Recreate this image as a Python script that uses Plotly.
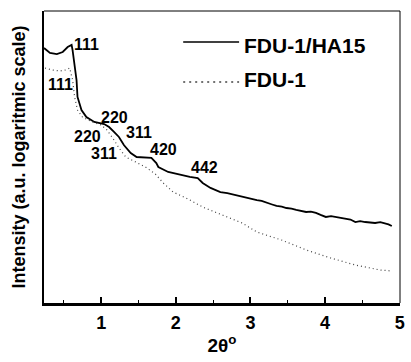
import plotly.graph_objects as go

# FDU-1/HA15 (solid) : 2-theta (deg) and log10 intensity (a.u.)
ha15_x = [0.234, 0.314, 0.406, 0.485, 0.551, 0.604, 0.617, 0.644, 0.670, 0.683,
          0.736, 0.802, 0.908, 1.040, 1.106, 1.172, 1.238, 1.304, 1.396, 1.475,
          1.594, 1.673, 1.739, 1.766, 1.898, 2.030, 2.110, 2.188, 2.294, 2.360,
          2.465, 2.530, 2.597, 2.690, 2.782, 2.850, 2.914, 3.000, 3.086, 3.150,
          3.218, 3.290, 3.350, 3.420, 3.482, 3.550, 3.614, 3.680, 3.746, 3.810,
          3.878, 3.940, 4.010, 4.080, 4.142, 4.210, 4.274, 4.340, 4.406, 4.470,
          4.538, 4.600, 4.670, 4.740, 4.802, 4.850, 4.894]
ha15_y = [2.620, 2.569, 2.558, 2.579, 2.630, 2.651, 2.599, 2.466, 2.291, 2.117,
          1.983, 1.911, 1.860, 1.839, 1.808, 1.757, 1.706, 1.623, 1.541, 1.500,
          1.490, 1.490, 1.438, 1.397, 1.346, 1.325, 1.305, 1.295, 1.284, 1.233,
          1.182, 1.165, 1.140, 1.128, 1.110, 1.100, 1.089, 1.075, 1.058, 1.048,
          1.027, 1.012, 0.997, 0.990, 0.976, 0.970, 0.956, 0.948, 0.935, 0.938,
          0.925, 0.905, 0.884, 0.892, 0.884, 0.870, 0.863, 0.858, 0.832, 0.842,
          0.832, 0.826, 0.822, 0.830, 0.822, 0.808, 0.791]

# FDU-1 (dotted)
fdu_x = [0.248, 0.340, 0.446, 0.525, 0.578, 0.617, 0.644, 0.683, 0.749, 0.881,
         1.000, 1.079, 1.172, 1.238, 1.330, 1.462, 1.594, 1.726, 1.832, 1.964,
         2.162, 2.360, 2.558, 2.690, 2.888, 3.086, 3.416, 3.746, 4.076, 4.406,
         4.736, 4.894]
fdu_y = [2.414, 2.394, 2.384, 2.394, 2.414, 2.291, 2.117, 1.983, 1.911, 1.860,
         1.829, 1.777, 1.675, 1.593, 1.500, 1.449, 1.397, 1.325, 1.233, 1.140,
         1.069, 0.986, 0.925, 0.884, 0.822, 0.729, 0.647, 0.545, 0.462, 0.390,
         0.339, 0.329]

# Reflection labels
peak_labels = ["111", "111", "220", "220", "311", "311", "420", "442"]
peak_label_x = [0.802, 0.459, 1.185, 0.815, 1.502, 1.040, 1.832, 2.386]
peak_label_y = [2.651, 2.240, 1.911, 1.706, 1.747, 1.541, 1.572, 1.397]

x_ticks = [1, 2, 3, 4, 5]
x_tick_text = ["1", "2", "3", "4", "5"]

FONT = "Liberation Sans, Arial, Helvetica, sans-serif"

fig = go.Figure()
fig.add_trace(go.Scatter(x=ha15_x, y=ha15_y, mode="lines",
                         line=dict(color="black", width=1.8), name="FDU-1/HA15",
                         showlegend=False))
fig.add_trace(go.Scatter(x=fdu_x, y=fdu_y, mode="lines",
                         line=dict(color="#444444", width=1.2, dash="1px,3px"),
                         name="FDU-1", showlegend=False))

for t, x, y in zip(peak_labels, peak_label_x, peak_label_y):
    fig.add_annotation(x=x, y=y, text=t, showarrow=False, xanchor="center",
                       yanchor="middle",
                       font=dict(family=FONT, size=16, color="black", weight="bold"))

# legend drawn manually
fig.add_shape(type="line", xref="paper", yref="paper", x0=0.391, x1=0.548,
              y0=0.894, y1=0.894, line=dict(color="black", width=1.5))
fig.add_shape(type="line", xref="paper", yref="paper", x0=0.391, x1=0.548,
              y0=0.757, y1=0.757, line=dict(color="#444444", width=1.5, dash="2px,4px"))
fig.add_annotation(xref="paper", yref="paper", x=0.557, y=0.882, text="FDU-1/HA15",
                   showarrow=False, xanchor="left", yanchor="middle",
                   font=dict(family=FONT, size=21, color="black", weight="bold"))
fig.add_annotation(xref="paper", yref="paper", x=0.557, y=0.764, text="FDU-1",
                   showarrow=False, xanchor="left", yanchor="middle",
                   font=dict(family=FONT, size=21, color="black", weight="bold"))

# top and right frame
fig.add_shape(type="line", xref="paper", yref="paper", x0=0, x1=1, y0=1, y1=1,
              line=dict(color="black", width=1))
fig.add_shape(type="line", xref="paper", yref="paper", x0=1, x1=1, y0=0, y1=1,
              line=dict(color="black", width=1))

fig.update_layout(
    width=411, height=362,
    margin=dict(l=44, r=6, t=11, b=59),
    paper_bgcolor="white", plot_bgcolor="white",
    font=dict(family=FONT, color="black"),
    xaxis=dict(range=[0.234, 5.004], tickvals=x_ticks, ticktext=x_tick_text,
               showgrid=False, zeroline=False, showline=True, linecolor="black",
               linewidth=2.5, ticks="inside", ticklen=6, tickwidth=1.5,
               tickcolor="black", ticklabelstandoff=2, ticklabeloverflow="allow",
               minor=dict(ticks="inside", dtick=0.5, tick0=0, ticklen=3,
                          tickwidth=1, tickcolor="black", showgrid=False),
               tickfont=dict(family=FONT, size=18, color="black", weight="bold"),
               title=dict(text="2θ<sup>o</sup>", standoff=7,
                          font=dict(family=FONT, size=19, color="black", weight="bold"))),
    yaxis=dict(range=[0, 3], showticklabels=False, ticks="", showgrid=False,
               zeroline=False, showline=True, linecolor="black", linewidth=2,
               title=dict(text="Intensity (a.u. logaritmic scale)", standoff=12,
                          font=dict(family=FONT, size=18, color="black", weight="bold"))),
)

fig.write_html("out.html", config={"displayModeBar": False},
               post_script="document.body.style.margin='0';document.body.style.overflow='hidden';")
